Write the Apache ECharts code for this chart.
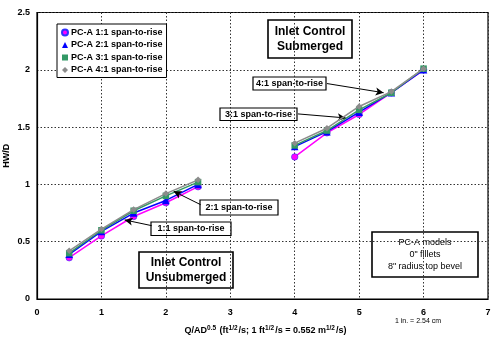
<!DOCTYPE html>
<html><head><meta charset="utf-8">
<script src="https://cdn.jsdelivr.net/npm/echarts@6/dist/echarts.min.js"></script>
<style>html,body{margin:0;padding:0;background:#fff}#c{width:495px;height:338px}</style>
</head><body><div id="c"></div>
<script>
const seriesNames = ['PC-A 1:1 span-to-rise','PC-A 2:1 span-to-rise','PC-A 3:1 span-to-rise','PC-A 4:1 span-to-rise'];
const xUnsub = [0.5, 1, 1.5, 2, 2.5];
const xSub = [4, 4.5, 5, 5.5, 6];
const s11Unsub = [0.36, 0.55, 0.72, 0.84, 0.98];
const s21Unsub = [0.39, 0.59, 0.75, 0.86, 1.00];
const s31Unsub = [0.40, 0.60, 0.77, 0.90, 1.02];
const s41Unsub = [0.42, 0.61, 0.78, 0.92, 1.04];
const s11Sub = [1.24, 1.45, 1.61, 1.80, 2.00];
const s21Sub = [1.33, 1.46, 1.63, 1.80, 2.00];
const s31Sub = [1.34, 1.47, 1.65, 1.80, 2.01];
const s41Sub = [1.36, 1.49, 1.68, 1.81, 2.01];
const yTicks = [0, 0.5, 1, 1.5, 2, 2.5];
const xTicks = [0, 1, 2, 3, 4, 5, 6, 7];

const colors = ['#ff00ff', '#0000ff', '#339966', '#8c8c8c'];
const symbols = ['circle', 'triangle', 'rect', 'diamond'];
const unsub = [s11Unsub, s21Unsub, s31Unsub, s41Unsub];
const sub = [s11Sub, s21Sub, s31Sub, s41Sub];

function buildData(i) {
  const d = xUnsub.map((x, k) => [x, unsub[i][k]]);
  d.push([3.25, '-']);
  xSub.forEach((x, k) => d.push([x, sub[i][k]]));
  return d;
}

const series = seriesNames.map((n, i) => ({
  name: n, type: 'line', data: buildData(i), connectNulls: false,
  symbol: symbols[i], symbolSize: i === 1 ? 7.5 : 6.5,
  lineStyle: { color: colors[i], width: 1.5 },
  itemStyle: { color: colors[i], borderColor: i === 0 ? '#3030ff' : colors[i], borderWidth: i === 0 ? 0.6 : 0 },
  z: 2 + i, animation: false
}));

// Annotation arrows (data coordinates)
const arrows = [
  [[4.50, 1.88], [5.38, 1.80]],
  [[4.05, 1.615], [4.79, 1.58]],
  [[2.54, 0.823], [2.12, 0.94]],
  [[1.78, 0.64], [1.36, 0.69]]
];
series.push({
  type: 'line', data: [], animation: false, z: 10,
  markLine: {
    silent: true, animation: false, symbol: ['none', 'arrow'], symbolSize: [6, 8],
    label: { show: false },
    lineStyle: { color: '#000', width: 1, type: 'solid' },
    data: arrows.map(a => [{ coord: a[0], symbol: 'none' }, { coord: a[1], symbol: 'arrow' }])
  }
});

function box(x, y, w, h, text, font, lw, lh) {
  return {
    type: 'group', z: 20, children: [
      { type: 'rect', shape: { x: x, y: y, width: w, height: h }, style: { fill: '#fff', stroke: '#000', lineWidth: lw || 1.2 } },
      { type: 'text', x: x + w / 2, y: y + h / 2, style: { text: text, font: font, fill: '#000', align: 'center', verticalAlign: 'middle', lineHeight: lh } }
    ]
  };
}

const chart = echarts.init(document.getElementById('c'), null, { renderer: 'canvas' });
chart.setOption({
  animation: false,
  color: colors,
  grid: { left: 37, right: 7, top: 12.5, bottom: 39, show: true, borderColor: '#000', borderWidth: 1.2, containLabel: false, outerBoundsMode: 'none' },
  legend: {
    data: seriesNames.map((n, i) => ({ name: n, icon: symbols[i] })),
    orient: 'vertical', left: 57, top: 24, itemWidth: 6, itemHeight: 6, itemGap: 3.5,
    padding: [4, 4, 3, 4], backgroundColor: '#fff', borderColor: '#000', borderWidth: 1,
    textStyle: { fontFamily: 'Liberation Sans', fontSize: 9, fontWeight: 'bold', color: '#000', padding: [0, 0, 0, -2] },
    selectedMode: false
  },
  xAxis: {
    type: 'value', min: 0, max: 7, interval: 1,
    axisLine: { show: true, lineStyle: { color: '#000', width: 1.2 } },
    axisTick: { show: false },
    axisLabel: { color: '#000', fontFamily: 'Liberation Sans', fontSize: 9, fontWeight: 'bold', margin: 9,
      formatter: v => xTicks.includes(v) ? String(v) : '' },
    splitLine: { show: true, lineStyle: { color: '#333', type: [1.5, 2], width: 1 } },
    name: 'Q/AD{s|0.5} (ft{s|1/2}/s; 1 ft{s|1/2}/s = 0.552 m{s|1/2}/s)',
    nameLocation: 'middle', nameGap: 26,
    nameTextStyle: { color: '#000', fontFamily: 'Liberation Sans', fontSize: 9, fontWeight: 'bold', padding: [0, 0, 0, 6],
      rich: { s: { fontSize: 6.5, fontFamily: 'Liberation Sans', fontWeight: 'bold', verticalAlign: 'top', padding: [0, 1, 5, 0] } } }
  },
  yAxis: {
    type: 'value', min: 0, max: 2.5, interval: 0.5,
    axisLine: { show: true, lineStyle: { color: '#000', width: 1.2 } },
    axisTick: { show: false },
    axisLabel: { color: '#000', fontFamily: 'Liberation Sans', fontSize: 9, fontWeight: 'bold', margin: 7,
      formatter: v => yTicks.includes(v) ? String(v) : '' },
    splitLine: { show: true, lineStyle: { color: '#333', type: [1.5, 2], width: 1 } },
    name: 'HW/D', nameLocation: 'middle', nameGap: 26, nameRotate: 90, nameMoveOverlap: false,
    nameTextStyle: { color: '#000', fontFamily: 'Liberation Sans', fontSize: 9, fontWeight: 'bold' }
  },
  graphic: [
    box(268, 20, 84, 38, 'Inlet Control\nSubmerged', 'bold 12px "Liberation Sans"', 1.6, 15),
    box(253, 77, 73, 13, '4:1 span-to-rise', 'bold 9px "Liberation Sans"', 1.2),
    box(220, 108, 77, 12.5, '3:1 span-to-rise', 'bold 9px "Liberation Sans"', 1.2),
    box(200, 200, 78, 15, '2:1 span-to-rise', 'bold 9px "Liberation Sans"', 1.2),
    box(151, 222, 80, 13.5, '1:1 span-to-rise', 'bold 9px "Liberation Sans"', 1.2),
    box(139, 252, 94, 36, 'Inlet Control\nUnsubmerged', 'bold 12px "Liberation Sans"', 1.6, 15),
    box(372, 232, 106, 45, 'PC-A models\n0" fillets\n8" radius top bevel', '9px "Liberation Sans"', 1.6, 12),
    { type: 'text', x: 418, y: 321, z: 20, style: { text: '1 in. = 2.54 cm', font: '7px "Liberation Sans"', fill: '#000', align: 'center', verticalAlign: 'middle' } }
  ],
  series: series
});
</script></body></html>
